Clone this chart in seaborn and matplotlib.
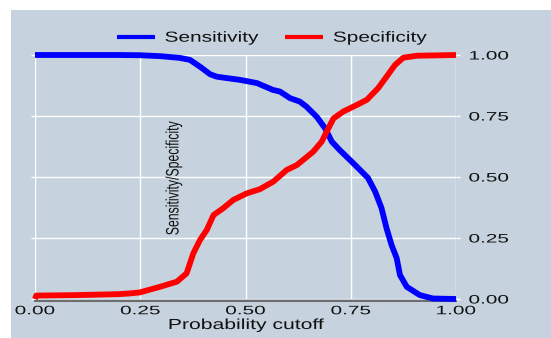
import numpy as np
import pandas as pd
import matplotlib
matplotlib.use("Agg")
import matplotlib.pyplot as plt
import seaborn as sns
from matplotlib.lines import Line2D
from matplotlib.patches import Rectangle
from matplotlib.patheffects import AbstractPathEffect
from matplotlib.transforms import Affine2D

# Sensitivity curve: probability cutoff vs. sensitivity
sens_cutoff = [0.0, 0.10, 0.20, 0.25, 0.30, 0.344, 0.368, 0.392, 0.416, 0.432,
               0.487, 0.527, 0.565, 0.582, 0.606, 0.629, 0.645, 0.669, 0.689,
               0.705, 0.724, 0.748, 0.772, 0.791, 0.808, 0.823, 0.835, 0.847,
               0.859, 0.867, 0.883, 0.914, 0.945, 1.0]
sens_value = [1.0, 1.0, 1.0, 0.999, 0.995, 0.988, 0.980, 0.952, 0.921, 0.911,
              0.898, 0.885, 0.857, 0.850, 0.823, 0.809, 0.788, 0.747, 0.700,
              0.645, 0.610, 0.570, 0.529, 0.496, 0.440, 0.373, 0.290, 0.221,
              0.168, 0.098, 0.050, 0.016, 0.002, 0.0]

# Specificity curve: probability cutoff vs. specificity
spec_cutoff = [0.0, 0.003, 0.10, 0.20, 0.226, 0.249, 0.297, 0.337, 0.360, 0.376,
               0.392, 0.408, 0.424, 0.447, 0.471, 0.503, 0.534, 0.566, 0.598,
               0.622, 0.637, 0.661, 0.681, 0.697, 0.709, 0.732, 0.764, 0.788,
               0.815, 0.835, 0.855, 0.875, 0.907, 1.0]
spec_value = [0.0, 0.014, 0.016, 0.020, 0.023, 0.027, 0.050, 0.071, 0.105, 0.187,
              0.242, 0.283, 0.344, 0.372, 0.406, 0.433, 0.450, 0.481, 0.529,
              0.549, 0.570, 0.604, 0.645, 0.700, 0.740, 0.768, 0.795, 0.816,
              0.864, 0.911, 0.959, 0.989, 0.997, 1.0]

tick_values = [0.0, 0.25, 0.50, 0.75, 1.0]
tick_labels = ["0.00", "0.25", "0.50", "0.75", "1.00"]
series_names = ["Sensitivity", "Specificity"]
series_colors = ["#0000FF", "#FF0000"]


class Stretch(AbstractPathEffect):
    """Draw text glyphs widened (or narrowed) along their baseline."""

    def __init__(self, sx, anchor="center"):
        super().__init__()
        self.sx = sx
        self.anchor = anchor

    def draw_path(self, renderer, gc, tpath, affine, rgbFace=None):
        ext = tpath.get_extents()
        if self.anchor == "left":
            cx = 0.0
        elif self.anchor == "right":
            cx = ext.x1
        else:
            cx = 0.5 * (ext.x0 + ext.x1)
        t = Affine2D().translate(-cx, 0).scale(self.sx, 1.0).translate(cx, 0)
        renderer.draw_path(gc, tpath, t + affine, rgbFace)


BG = "#C6D3DE"
INK = "#111111"
sns.set_style("white", {"axes.facecolor": BG})
plt.rcParams["font.family"] = ["Liberation Sans", "DejaVu Sans"]

W, H = 551, 338
fig = plt.figure(figsize=(W / 100, H / 100), dpi=100, facecolor="white")
fig.patches.append(Rectangle((11 / W, 0), 1 - 11 / W, 1 - 10 / H,
                             transform=fig.transFigure, facecolor=BG,
                             edgecolor="none", zorder=-10))

ax = fig.add_axes([35 / W, 39 / H, 421 / W, 244 / H])

df = pd.concat([
    pd.DataFrame({"cutoff": sens_cutoff, "value": sens_value, "measure": series_names[0]}),
    pd.DataFrame({"cutoff": spec_cutoff, "value": spec_value, "measure": series_names[1]}),
], ignore_index=True)

sns.lineplot(data=df, x="cutoff", y="value", hue="measure",
             palette=dict(zip(series_names, series_colors)),
             estimator=None, sort=False, lw=4.2, legend=False, ax=ax,
             clip_on=False, solid_capstyle="butt", solid_joinstyle="round",
             zorder=3)

ax.set_xlim(0, 1)
ax.set_ylim(0, 1)
ax.set_xticks(tick_values, tick_labels)
ax.set_yticks(tick_values, tick_labels)
ax.grid(True, color="white", lw=1.0)
ax.set_axisbelow(True)
for s in ["top", "left", "right"]:
    ax.spines[s].set_visible(False)
ax.spines["bottom"].set_color("#6E6E6E")
ax.spines["bottom"].set_linewidth(1.5)
ax.spines["bottom"].set_position(("outward", 1.5))

ax.tick_params(axis="x", direction="in", length=3, width=1, color="#6E6E6E",
               labelsize=8.8, pad=3, labelcolor=INK)
ax.tick_params(axis="y", direction="out", length=3, width=1, color="white",
               left=True, right=True, labelleft=False, labelright=True,
               labelsize=8.8, pad=6, labelcolor=INK)

ax.set_xlabel("Probability cutoff", fontsize=10.5, color=INK, va="top")
ax.xaxis.set_label_coords((246.7 - 35) / 421, (299 - 318) / 244)
ax.set_ylabel("Sensitivity/Specificity", fontsize=13, color=INK,
              rotation=90, va="center", ha="center")
ax.yaxis.set_label_coords((174 - 35) / 421, (299 - 178.3) / 244)

handles = [Line2D([], [], color=c, lw=3, solid_capstyle="butt") for c in series_colors]
leg = fig.legend(handles, series_names, loc="center left",
                 bbox_to_anchor=(116.7 / W, 1 - 37.7 / H), ncol=2,
                 frameon=False, fontsize=10.5, handlelength=2.6,
                 handletextpad=0.68, columnspacing=3.7, borderpad=0,
                 borderaxespad=0, labelcolor=INK)

fig.canvas.draw()
for t in ax.get_xticklabels():
    t.set_path_effects([Stretch(1.7, "center")])
for t in ax.get_yticklabels():
    t.set_path_effects([Stretch(1.7, "left")])
ax.xaxis.label.set_path_effects([Stretch(1.45, "center")])
ax.yaxis.label.set_path_effects([Stretch(0.68, "center")])
for t in leg.get_texts():
    t.set_path_effects([Stretch(1.43, "left")])

fig.savefig("out.png", dpi=100, facecolor="white")
